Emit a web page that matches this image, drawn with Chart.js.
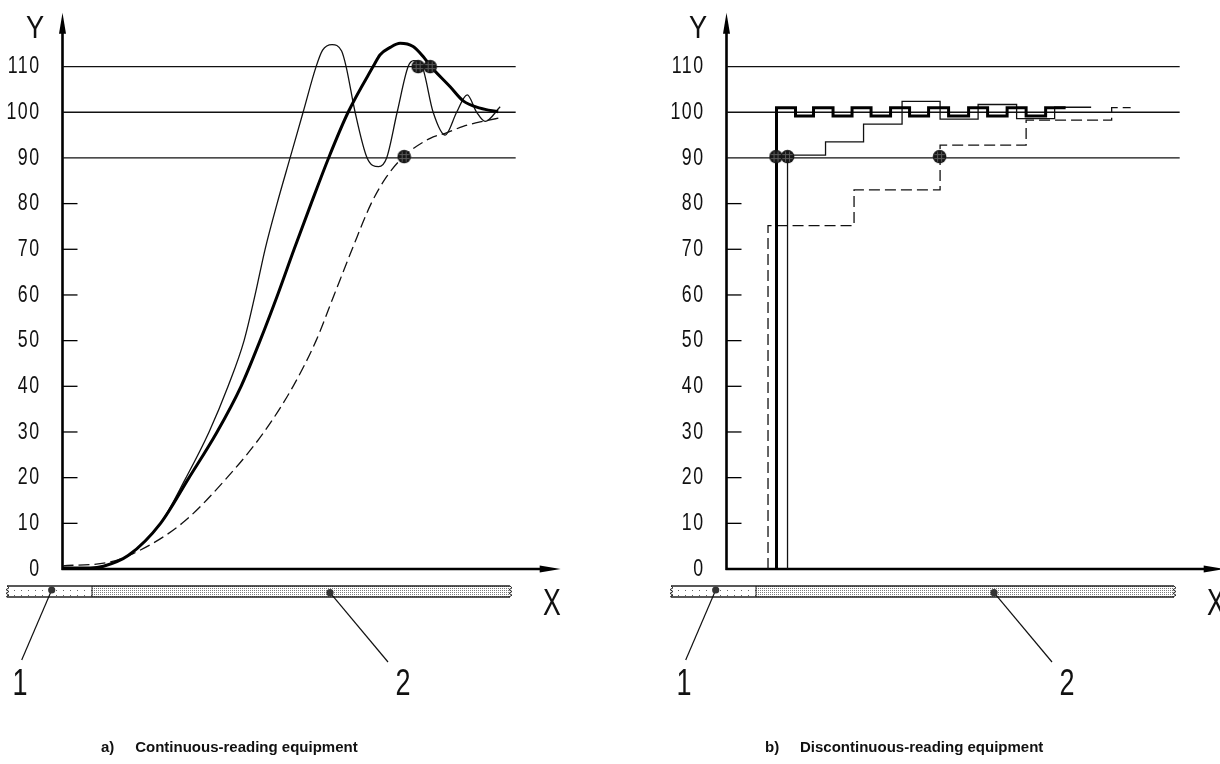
<!DOCTYPE html>
<html>
<head>
<meta charset="utf-8">
<script src="https://cdn.jsdelivr.net/npm/chart.js@4.4.1/dist/chart.umd.min.js"></script>
<style>
  html, body { margin: 0; padding: 0; background: #fff; overflow: hidden; }
  body { width: 1220px; height: 764px; position: relative; }
  canvas { position: absolute; top: 0; }
  #chartA { left: 0; }
  #chartB { left: 664px; }
  .lbl {
    position: absolute;
    font-family: "Liberation Sans", Arial, sans-serif;
    color: #111;
    line-height: 1;
    white-space: nowrap;
  }
  .cap {
    position: absolute;
    font-family: "Liberation Sans", Arial, sans-serif;
    font-weight: bold;
    font-size: 15px;
    color: #111;
    white-space: pre;
    transform: translateY(-50%);
  }
</style>
</head>
<body>
<canvas id="chartA" width="610" height="764"></canvas>
<canvas id="chartB" width="610" height="764"></canvas>

<div class="lbl" style="left:35px;top:27px;font-size:32px;transform:translate(-50%,-50%) scaleX(0.85)">Y</div>
<div class="lbl" style="left:552px;top:602px;font-size:37px;transform:translate(-50%,-50%) scaleX(0.72)">X</div>
<div class="lbl" style="left:20px;top:683px;font-size:36px;transform:translate(-50%,-50%) scaleX(0.75)">1</div>
<div class="lbl" style="left:403px;top:683px;font-size:36px;transform:translate(-50%,-50%) scaleX(0.75)">2</div>
<div class="cap" style="left:101px;top:746px">a)     Continuous-reading equipment</div>

<div class="lbl" style="left:698px;top:27px;font-size:32px;transform:translate(-50%,-50%) scaleX(0.85)">Y</div>
<div class="lbl" style="left:1216px;top:602px;font-size:37px;transform:translate(-50%,-50%) scaleX(0.72)">X</div>
<div class="lbl" style="left:684px;top:683px;font-size:36px;transform:translate(-50%,-50%) scaleX(0.75)">1</div>
<div class="lbl" style="left:1067px;top:683px;font-size:36px;transform:translate(-50%,-50%) scaleX(0.75)">2</div>
<div class="cap" style="left:765px;top:746px">b)     Discontinuous-reading equipment</div>

<script>
// axis ranges and ticks
const X_MAX = 99.6;
const Y_MAX = 121.8;
const yTicks = [0, 10, 20, 30, 40, 50, 60, 70, 80, 90, 100, 110];
const refLevels = [90, 100, 110];
const refEnd = 90.6;

// a) continuous reading
const contThickX = [0, 5.5, 8.2, 13.2, 19.6, 25.3, 30.9, 35.7, 39.5, 43, 46.3, 49.7, 53.2, 57.1, 62.1, 63.5, 65.5, 67.5, 70.1, 72.1, 73.5, 77.5, 80.1, 83.5, 87.1];
const contThickY = [0.2, 0.2, 0.6, 3, 10, 20, 30, 40, 50, 60, 70, 80, 90, 100, 110, 112.6, 114.2, 115.1, 114.4, 112.2, 110.2, 105.6, 102.5, 100.9, 100.1];

const contThinX = [0, 5.5, 8.2, 13.2, 19.6, 24.7, 29.3, 33.1, 36.3, 38.5, 40.5, 42.9, 45.5, 48.1, 50.7, 52.0, 53.9, 55.8, 56.7, 58.5, 60.9, 63.2, 64.8, 66.9, 69.1, 70.2, 71.9, 74.1, 76.5, 78.8, 80.9, 82.8, 84.5, 87.5];
const contThinY = [0.2, 0.2, 0.6, 3, 10, 20, 30, 40, 50, 60, 70, 80, 90, 100, 110, 113.6, 114.8, 113.4, 110, 100, 90, 88.1, 90, 100, 110, 111.3, 110, 100, 95, 100, 103.8, 100, 98, 101.2];

const contDashX = [0, 8.9, 13.2, 23.9, 32.9, 40.3, 46.1, 50.7, 54.3, 57.9, 61.7, 64.8, 68.3, 73.5, 76.5, 80.1, 83.5, 88.1];
const contDashY = [0.7, 1.4, 2.9, 10, 20, 30, 40, 50, 60, 70, 80, 85.9, 90.4, 94.3, 95.4, 96.9, 97.9, 98.9];

const contDotX = [68.3, 71.1, 73.5];
const contDotY = [90.3, 110, 110];

// b) discontinuous reading
const discThickX = [10, 10, 13.8, 17.4, 21.3, 25.1, 28.9, 32.8, 36.6, 40.4, 44.4, 48.4, 52.2, 56.1, 59.9, 63.8, 67.8];
const discThickY = [0, 101, 99.2, 101, 99.2, 101, 99.2, 101, 99.2, 101, 99.2, 101, 99.2, 101, 99.2, 101, 101];

const discThinX = [12.2, 12.2, 19.8, 27.4, 35.1, 42.7, 50.3, 58, 65.6, 72.9];
const discThinY = [0, 90.6, 93.5, 97.4, 102.4, 98.5, 101.7, 98.6, 101.1, 101.1];

const discDashX = [8.3, 8.3, 25.5, 42.7, 59.9, 77, 80.8];
const discDashY = [0, 75.2, 83, 92.8, 98.3, 101, 101];

const discDotX = [9.9, 12.2, 42.6];
const discDotY = [90.3, 90.3, 90.3];

const pts = (xs, ys) => xs.map((x, i) => ({ x, y: ys[i] }));

function hatchDot() {
  const c = document.createElement('canvas');
  c.width = c.height = 15;
  const g = c.getContext('2d');
  g.fillStyle = '#161616';
  g.beginPath(); g.arc(7.5, 7.5, 6.8, 0, Math.PI * 2); g.fill();
  g.save();
  g.beginPath(); g.arc(7.5, 7.5, 5.6, 0, Math.PI * 2); g.clip();
  g.strokeStyle = '#5a5a5a'; g.lineWidth = 1;
  [5.5, 9.5].forEach(p => {
    g.beginPath(); g.moveTo(p, 0); g.lineTo(p, 15); g.stroke();
    g.beginPath(); g.moveTo(0, p); g.lineTo(15, p); g.stroke();
  });
  g.restore();
  return c;
}
const dotImg = hatchDot();

function makePattern(dense) {
  const c = document.createElement('canvas');
  const g = c.getContext('2d');
  if (dense) {
    c.width = 2; c.height = 2;
    g.fillStyle = '#fff'; g.fillRect(0, 0, 2, 2);
    g.fillStyle = '#7a7a7a'; g.fillRect(0, 0, 1, 1);
  } else {
    c.width = 7; c.height = 5;
    g.fillStyle = '#fff'; g.fillRect(0, 0, 7, 5);
    g.fillStyle = '#666'; g.fillRect(0, 0, 1, 1);
  }
  return c;
}

// narrow, spaced-out (drafting style) tick labels: squeeze the library's label drawing
const narrowTicks = {
  id: 'narrowTicks',
  beforeDraw(chart) {
    const s = chart.scales.y;
    if (s._narrow) return;
    s._narrow = true;
    s._computeLabelArea = () => null; // no clipping, the squeeze keeps labels in place
    const draw = s.drawLabels.bind(s);
    s.drawLabels = function (area) {
      const ctx = this.ctx;
      const ax = this.right - this.options.ticks.padding;
      ctx.save();
      ctx.translate(ax, 0);
      ctx.scale(0.74, 1);
      ctx.translate(-ax, 0);
      ctx.letterSpacing = '2px';
      draw(area);
      ctx.restore();
    };
  }
};

const axesPlugin = {
  id: 'axes',
  beforeDatasetsDraw(chart) {
    const { ctx, chartArea: a, scales: { x, y } } = chart;
    const x0 = x.getPixelForValue(0), y0 = y.getPixelForValue(0);
    ctx.save();
    ctx.strokeStyle = '#000';
    ctx.fillStyle = '#000';
    // short tick marks
    ctx.lineWidth = 1.3;
    yTicks.filter(v => v > 0 && !refLevels.includes(v)).forEach(v => {
      const py = y.getPixelForValue(v);
      ctx.beginPath(); ctx.moveTo(x0, py); ctx.lineTo(x0 + 15, py); ctx.stroke();
    });
    // axis lines
    ctx.lineWidth = 2.6;
    ctx.beginPath();
    ctx.moveTo(x0, y0 + 1); ctx.lineTo(x0, a.top + 12);
    ctx.moveTo(x0 - 1, y0); ctx.lineTo(a.right - 12, y0);
    ctx.stroke();
    // arrow heads
    ctx.beginPath();
    ctx.moveTo(x0, a.top); ctx.lineTo(x0 - 3.5, a.top + 21); ctx.lineTo(x0 + 3.5, a.top + 21);
    ctx.closePath(); ctx.fill();
    ctx.beginPath();
    ctx.moveTo(a.right, y0); ctx.lineTo(a.right - 21, y0 - 3.5); ctx.lineTo(a.right - 21, y0 + 3.5);
    ctx.closePath(); ctx.fill();
    ctx.restore();
  },
  afterDraw(chart) {
    const { ctx, scales: { x, y } } = chart;
    const x0 = x.getPixelForValue(0), y0 = y.getPixelForValue(0);
    const left = x0 - 55.5, mid = x0 + 29.5, right = x0 + 447.5;
    const top = y0 + 17, bot = y0 + 28;
    ctx.save();
    ctx.fillStyle = ctx.createPattern(makePattern(false), 'repeat');
    ctx.fillRect(left, top, mid - left, bot - top);
    ctx.fillStyle = ctx.createPattern(makePattern(true), 'repeat');
    ctx.fillRect(mid, top, right - mid, bot - top);
    ctx.strokeStyle = '#222';
    ctx.lineWidth = 1.5;
    ctx.beginPath();
    ctx.moveTo(left, top); ctx.lineTo(right, top);
    ctx.moveTo(left, bot); ctx.lineTo(right, bot);
    ctx.stroke();
    ctx.lineWidth = 1;
    ctx.beginPath(); ctx.moveTo(mid, top); ctx.lineTo(mid, bot); ctx.stroke();
    // zigzag ends
    [left, right].forEach(ex => {
      ctx.beginPath();
      ctx.moveTo(ex, top);
      for (let i = 1; i <= 6; i++) {
        ctx.lineTo(ex + (i % 2 ? 2 : -1), top + i * (bot - top) / 6);
      }
      ctx.stroke();
    });
    // leader lines with dots
    const leaders = [
      [x0 - 10.8, y0 + 21, x0 - 40.8, y0 + 91],
      [x0 + 267.5, y0 + 23.7, x0 + 325.5, y0 + 93]
    ];
    ctx.strokeStyle = '#111';
    ctx.fillStyle = '#333';
    ctx.lineWidth = 1.2;
    leaders.forEach(([sx, sy, ex, ey]) => {
      ctx.beginPath(); ctx.moveTo(sx, sy); ctx.lineTo(ex, ey); ctx.stroke();
      ctx.beginPath(); ctx.arc(sx, sy, 3.6, 0, Math.PI * 2); ctx.fill();
    });
    ctx.restore();
  }
};

function refSets() {
  return refLevels.map(v => ({
    data: pts([0, refEnd], [v, v]),
    borderColor: '#111',
    borderWidth: 1.3,
    pointRadius: 0
  }));
}

function buildChart(id, series) {
  const datasets = [
    {
      data: pts(series.dotX, series.dotY),
      showLine: false,
      pointStyle: dotImg,
      pointRadius: 7,
      clip: false
    },
    {
      data: pts(series.thickX, series.thickY),
      borderColor: '#000',
      borderWidth: 3,
      pointRadius: 0,
      stepped: series.stepped,
      cubicInterpolationMode: 'monotone'
    },
    {
      data: pts(series.thinX, series.thinY),
      borderColor: '#111',
      borderWidth: 1.3,
      pointRadius: 0,
      stepped: series.stepped,
      cubicInterpolationMode: 'monotone'
    },
    {
      data: pts(series.dashX, series.dashY),
      borderColor: '#111',
      borderWidth: 1.3,
      borderDash: [11, 5],
      pointRadius: 0,
      stepped: series.stepped,
      cubicInterpolationMode: 'monotone'
    },
    ...refSets()
  ];

  return new Chart(document.getElementById(id), {
    type: 'line',
    data: { datasets },
    options: {
      responsive: false,
      animation: false,
      devicePixelRatio: 1,
      events: [],
      layout: { padding: { left: 0, top: 12.7, right: 610 - 560.7, bottom: 764 - 569 } },
      plugins: { legend: { display: false }, tooltip: { enabled: false } },
      scales: {
        x: { type: 'linear', min: 0, max: X_MAX, display: false },
        y: {
          type: 'linear',
          min: 0,
          max: Y_MAX,
          afterBuildTicks: s => { s.ticks = yTicks.map(v => ({ value: v })); },
          afterFit: s => { s.width = 62.5; s.paddingTop = 0; s.paddingBottom = 0; },
          grid: { display: false },
          border: { display: false },
          ticks: {
            color: '#111',
            padding: 16,
            font: { family: '"Liberation Sans", Arial, sans-serif', size: 24 }
          }
        }
      }
    },
    plugins: [narrowTicks, axesPlugin]
  });
}

buildChart('chartA', {
  thickX: contThickX, thickY: contThickY,
  thinX: contThinX, thinY: contThinY,
  dashX: contDashX, dashY: contDashY,
  dotX: contDotX, dotY: contDotY,
  stepped: false
});

buildChart('chartB', {
  thickX: discThickX, thickY: discThickY,
  thinX: discThinX, thinY: discThinY,
  dashX: discDashX, dashY: discDashY,
  dotX: discDotX, dotY: discDotY,
  stepped: true
});
</script>
</body>
</html>
